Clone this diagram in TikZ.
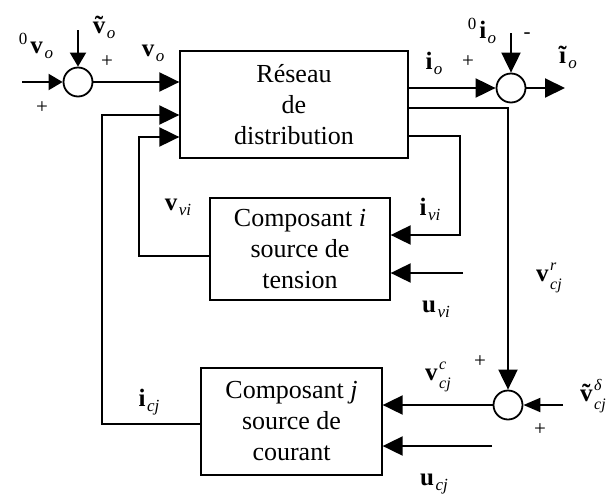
\documentclass[tikz,border=0pt]{standalone}
\usepackage{fontspec}
\setmainfont{Liberation Serif}
\usetikzlibrary{arrows.meta,calc}
\newcommand\mysub[1]{\kern1.5pt\raisebox{-5pt}{\fontsize{17}{17}\selectfont\textit{#1}}}
\newcommand\mysupsub[2]{\kern1.5pt\raisebox{-8pt}{\fontsize{16}{18}\selectfont\shortstack[l]{\textit{#1}\\[5pt]\textit{#2}}}}
\newcommand\mypre{\raisebox{9pt}{\fontsize{17}{17}\selectfont 0}\kern3pt}
\begin{document}
\begin{tikzpicture}[x=1pt,y=-1pt,
 conn/.style={line width=2pt,-{Triangle[length=20pt,width=19pt]}},
 sconn/.style={line width=2pt,-{Triangle[length=14pt,width=16pt]}},
 blk/.style={draw,line width=1.3pt,rectangle,inner sep=0pt,align=center,font=\fontsize{26}{31}\selectfont},
 sum/.style={draw,circle,line width=1.8pt,minimum size=29pt,inner sep=0pt},
 lbl/.style={font=\fontsize{25}{27}\selectfont,inner sep=0pt},
 sgn/.style={font=\fontsize{21}{24}\selectfont,inner sep=0pt}]
\useasboundingbox (0,0) rectangle (613,496);
% blocks
\node[blk,minimum width=228pt,minimum height=107pt] (res) at (294,104.5) {Réseau\\de\\distribution};
\node[blk,minimum width=180pt,minimum height=102pt] (ci) at (300,249) {Composant \textit{i}\\source de\\tension};
\node[blk,minimum width=181pt,minimum height=107pt] (cj) at (291.5,421.5) {Composant \textit{j}\\source de\\courant};
% summing junctions
\node[sum] (s1) at (78,82) {};
\node[sum] (s2) at (511,88) {};
\node[sum] (s3) at (508,405) {};
% free ends
\coordinate (in1) at (22,82);
\coordinate (in2) at (78,30);
\coordinate (in3) at (511,33);
\coordinate (out2) at (565,88);
\coordinate (uvi) at (463,273);
\coordinate (ucj) at (492,446);
\coordinate (vd) at (563,405);
% connectors
\draw[sconn] (in1) -- (s1.west);
\draw[sconn] (in2) -- (s1.north);
\draw[conn] (s1.east) -- (res.west |- s1);
\draw[conn] (res.east |- s2) -- (s2.west);
\draw[conn] (in3) -- (s2.north);
\draw[conn] (s2.east) -- (out2);
\draw[conn] (res.east |- 0,108) -- (508,108) -- (s3.north);
\draw[conn] (res.east |- 0,136) -- (460,136) -- (460,235) -- (ci.east |- 0,235);
\draw[conn] (uvi) -- (ci.east |- uvi);
\draw[conn] (ci.west |- 0,256) -- (139,256) -- (139,137) -- (res.west |- 0,137);
\draw[conn] (cj.west |- 0,424) -- (102,424) -- (102,115) -- (res.west |- 0,115);
\draw[conn] (s3.west) -- (cj.east |- s3);
\draw[conn] (ucj) -- (cj.east |- ucj);
\draw[line width=2pt,-{Triangle[length=17pt,width=14pt]}] (vd) -- (s3.east);
% labels
\node[lbl] (l1) at (36,46) {\mypre\textbf{v}\mysub{o}};
\node[lbl] (l2) at (104,27) {\textbf{\~{v}}\mysub{o}};
\node[sgn] (p1) at (107,62) {+};
\node[lbl] (l3) at (153,53) {\textbf{v}\mysub{o}};
\node[sgn] (p2) at (42,108) {+};
\node[lbl] (l4) at (434,63) {\textbf{i}\mysub{o}};
\node[sgn] (p3) at (468,62) {+};
\node[lbl] (l5) at (482,31) {\mypre\textbf{i}\mysub{o}};
\node[sgn] (m1) at (527,36) {-};
\node[lbl] (l6) at (568,57) {\textbf{\~{i}}\mysub{o}};
\node[lbl] (l7) at (178,207) {\textbf{v}\mysub{vi}};
\node[lbl] (l8) at (430,209) {\textbf{i}\mysub{vi}};
\node[lbl] (l9) at (436,309) {\textbf{u}\mysub{vi}};
\node[lbl] (l10) at (549,278) {\textbf{v}\mysupsub{r}{cj}};
\node[sgn] (p4) at (480,362) {+};
\node[lbl] (l11) at (438,377) {\textbf{v}\mysupsub{c}{cj}};
\node[lbl,anchor=west] (l12) at (580,396) {\textbf{\~{v}}\mysupsub{δ}{cj}};
\node[sgn] (p5) at (540,430) {+};
\node[lbl] (l13) at (149,402) {\textbf{i}\mysub{cj}};
\node[lbl] (l14) at (434,484) {\textbf{u}\mysub{cj}};
\end{tikzpicture}
\end{document}
